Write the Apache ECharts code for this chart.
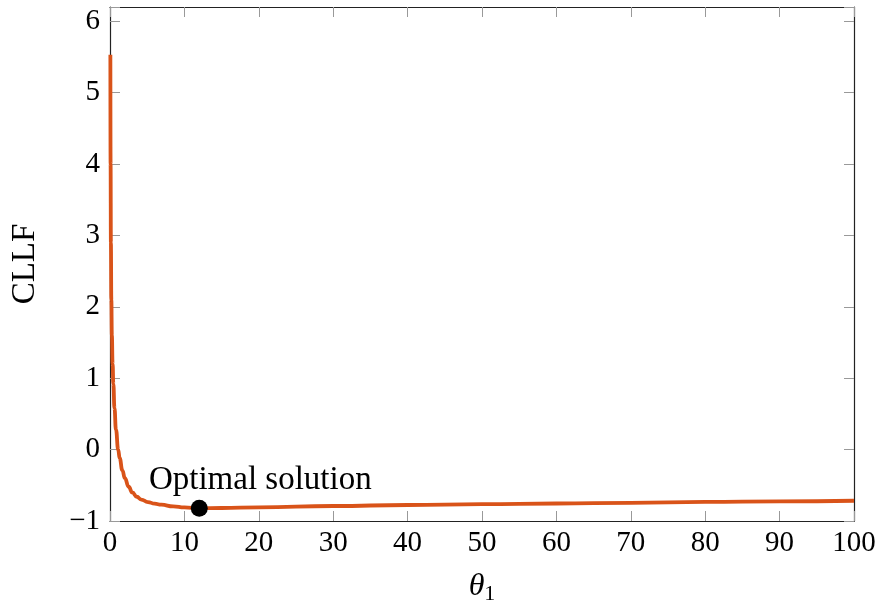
<!DOCTYPE html>
<html>
<head>
<meta charset="utf-8">
<script src="https://cdn.jsdelivr.net/npm/echarts@6/dist/echarts.min.js"></script>
<style>html,body{margin:0;padding:0;background:#fff;}#c{width:880px;height:603px;}</style>
</head>
<body>
<div id="c"></div>
<script>
const theta = [0.05, 0.08, 0.12, 0.18, 0.25, 0.35, 0.45, 0.6, 0.8, 1.1, 1.3, 1.66, 2.0, 2.5, 3.0, 3.6, 4.2, 5.1, 6.0, 6.9, 8.5, 10, 12, 15, 20, 30, 40, 50, 60, 70, 80, 90, 100];
const cllf  = [5.53, 4.0, 2.9, 2.1, 1.6, 1.2, 0.92, 0.58, 0.28, 0.0, -0.12, -0.29, -0.40, -0.52, -0.60, -0.66, -0.70, -0.735, -0.757, -0.772, -0.795, -0.81, -0.82, -0.818, -0.81, -0.79, -0.776, -0.765, -0.755, -0.745, -0.733, -0.724, -0.716];
const optimum = [12, -0.82];
const optimumLabel = 'Optimal solution';
const yName = 'CLLF';

const FONT = 'Liberation Serif';
const chart = echarts.init(document.getElementById('c'), null, {renderer: 'canvas'});
const tickStyle = {show: true, inside: true, length: 10, lineStyle: {color: '#999', width: 1}};
const lineStyle = {show: true, onZero: false, lineStyle: {color: '#222', width: 1.2}};
chart.setOption({
  animation: false,
  grid: {left: 110, right: 26, top: 7, bottom: 82, containLabel: false, outerBoundsMode: 'none'},
  xAxis: [{
    type: 'value', min: 0, max: 100, interval: 10,
    axisLine: lineStyle, axisTick: tickStyle, splitLine: {show: false},
    axisLabel: {color: '#000', fontFamily: FONT, fontSize: 29, margin: 8},
    name: '{i|θ}{s|1}', nameLocation: 'middle', nameGap: 48,
    nameTextStyle: {rich: {i: {fontFamily: FONT, fontStyle: 'italic', fontSize: 32, color: '#000'}, s: {fontFamily: FONT, fontSize: 22, color: '#000', verticalAlign: 'bottom', padding: [14, 0, 0, 0]}}}
  }, {
    type: 'value', min: 0, max: 100, interval: 10, position: 'top',
    axisLine: lineStyle, axisTick: tickStyle, axisLabel: {show: false}, splitLine: {show: false}
  }],
  yAxis: [{
    type: 'value', min: -1, max: 6.2, interval: 1,
    axisLine: lineStyle, axisTick: tickStyle, splitLine: {show: false},
    axisLabel: {color: '#000', fontFamily: FONT, fontSize: 29, margin: 10,
      formatter: v => Number.isInteger(v) ? String(v).replace('-', '\u2212') : ''},
    name: yName, nameLocation: 'middle', nameGap: 68, nameRotate: 90,
    nameTextStyle: {fontFamily: FONT, fontSize: 33, color: '#000'}
  }, {
    type: 'value', min: -1, max: 6.2, interval: 1, position: 'right',
    axisLine: lineStyle, axisTick: tickStyle, axisLabel: {show: false}, splitLine: {show: false}
  }],
  series: [{
    type: 'line', data: theta.map((t, i) => [t, cllf[i]]),
    showSymbol: false, smooth: 0.5, smoothMonotone: 'x',
    lineStyle: {color: '#D95319', width: 3.8}, z: 2
  }, {
    type: 'scatter', data: [optimum], symbolSize: 17,
    itemStyle: {color: '#000', opacity: 1}, z: 3,
    label: {show: true, formatter: optimumLabel, position: 'top', offset: [61, 2],
      fontFamily: FONT, fontSize: 33, color: '#000'}
  }]
});
</script>
</body>
</html>
